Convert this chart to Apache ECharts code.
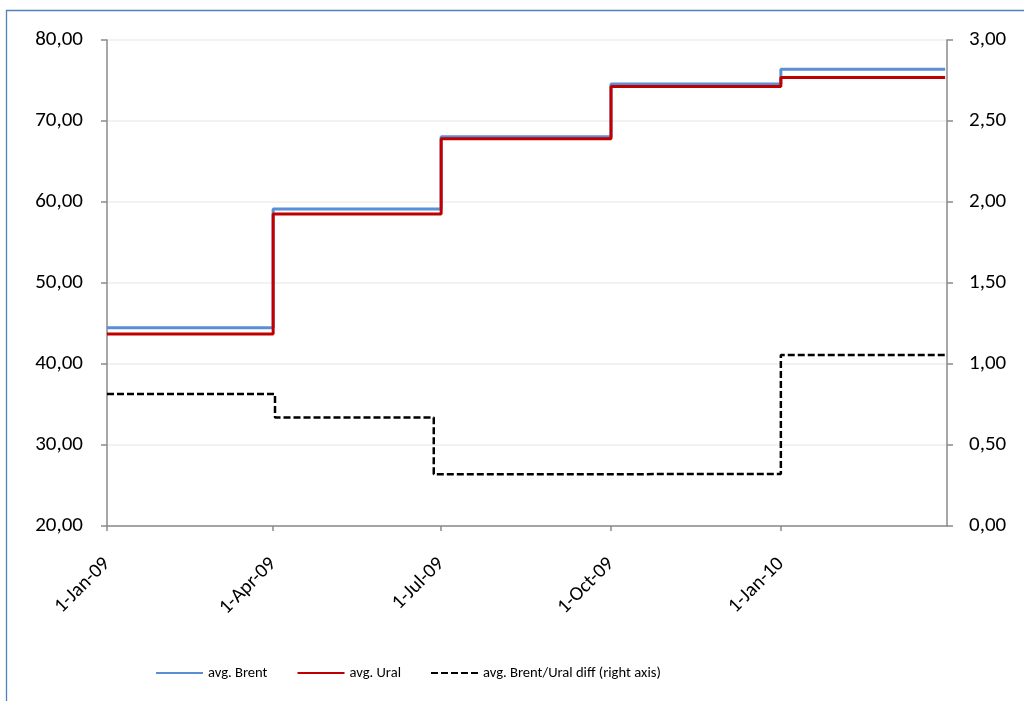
<!DOCTYPE html>
<html>
<head>
<meta charset="utf-8">
<title>Brent vs Ural</title>
<script src="https://cdn.jsdelivr.net/npm/echarts@6/dist/echarts.min.js"></script>
<style>
  html, body { margin: 0; padding: 0; background: #ffffff; }
  #chart { width: 1024px; height: 701px; }
</style>
</head>
<body>
<div id="chart"></div>
<script>
// Quarterly average prices (USD/bbl), held constant through each quarter
const priceDates = ['2009-01-01', '2009-04-01', '2009-07-01', '2009-10-01', '2010-01-01', '2010-03-31'];
const brentAvg = [44.48, 59.15, 68.07, 74.57, 76.40, 76.40];
const uralAvg = [43.70, 58.53, 67.80, 74.25, 75.37, 75.37];

// Brent/Ural spread, plotted on the right axis
const diffDates = ['2009-01-01', '2009-04-02', '2009-06-27', '2009-10-01', '2010-01-01', '2010-03-31'];
const brentUralDiff = [0.815, 0.670, 0.320, 0.321, 1.056, 1.056];

// Category ticks on the date axis
const tickDates = ['2009-01-01', '2009-04-01', '2009-07-01', '2009-10-01', '2010-01-01'];
const tickLabels = ['1-Jan-09', '1-Apr-09', '1-Jul-09', '1-Oct-09', '1-Jan-10'];

const axisStart = '2009-01-01';
const axisEnd = '2010-04-01';

// Dates become day numbers counted from the axis start
const DAY = 86400000;
const toUTC = s => {
  const [y, m, d] = s.split('-').map(Number);
  return Date.UTC(y, m - 1, d);
};
const toDay = s => Math.round((toUTC(s) - toUTC(axisStart)) / DAY);
const pairs = (dates, vals) => dates.map((d, i) => [toDay(d), vals[i]]);

const tickDays = tickDates.map(toDay);
const labelByDay = {};
tickDays.forEach((t, i) => { labelByDay[t] = tickLabels[i]; });

const FONT = 'Carlito, Lato, "Open Sans", sans-serif';
const AXIS_GRAY = '#8a8a8a';
const comma = v => v.toFixed(2).replace('.', ',');

const chart = echarts.init(document.getElementById('chart'), null, { renderer: 'canvas' });

chart.setOption({
  animation: false,
  backgroundColor: '#ffffff',
  textStyle: { fontFamily: FONT },
  graphic: [{
    type: 'rect',
    silent: true,
    shape: { x: 6.5, y: 10.5, width: 2000, height: 2000 },
    style: { fill: 'none', stroke: '#4f81bd', lineWidth: 1.3 }
  }],
  grid: { left: 107, right: 77, top: 40, bottom: 175, containLabel: false },
  legend: {
    left: 150,
    top: 660,
    itemWidth: 47,
    itemHeight: 20,
    itemGap: 29,
    itemStyle: { opacity: 0 },
    textStyle: { fontFamily: FONT, fontSize: 14.6, color: '#000000' },
    data: ['avg. Brent', 'avg. Ural', 'avg. Brent/Ural diff (right axis)']
  },
  xAxis: {
    type: 'value',
    min: toDay(axisStart),
    max: toDay(axisEnd),
    axisLine: { onZero: false, lineStyle: { color: AXIS_GRAY, width: 1.5 } },
    axisTick: { show: true, customValues: tickDays, length: 5, lineStyle: { color: AXIS_GRAY, width: 1.5 } },
    axisLabel: {
      customValues: tickDays,
      rotate: 45,
      margin: 35,
      fontFamily: FONT,
      fontSize: 20,
      color: '#000000',
      formatter: v => labelByDay[v] || ''
    },
    splitLine: { show: false }
  },
  yAxis: [{
    type: 'value',
    min: 20,
    max: 80,
    interval: 10,
    axisLine: { show: true, lineStyle: { color: AXIS_GRAY, width: 1.5 } },
    axisTick: { show: true, length: 6, lineStyle: { color: AXIS_GRAY, width: 1.5 } },
    axisLabel: { margin: 24, fontFamily: FONT, fontSize: 21, color: '#000000', formatter: comma },
    splitLine: { show: true, lineStyle: { color: '#eeeeee', width: 1.5 } }
  }, {
    type: 'value',
    min: 0,
    max: 3,
    interval: 0.5,
    position: 'right',
    axisLine: { show: true, lineStyle: { color: AXIS_GRAY, width: 1.5 } },
    axisTick: { show: true, length: 6, lineStyle: { color: AXIS_GRAY, width: 1.5 } },
    axisLabel: { margin: 22, fontFamily: FONT, fontSize: 21, color: '#000000', formatter: comma },
    splitLine: { show: false }
  }],
  series: [{
    name: 'avg. Brent',
    type: 'line',
    step: 'end',
    yAxisIndex: 0,
    symbol: 'none',
    data: pairs(priceDates, brentAvg),
    itemStyle: { color: '#5a8fd6' },
    lineStyle: { color: '#5a8fd6', width: 3 }
  }, {
    name: 'avg. Ural',
    type: 'line',
    step: 'end',
    yAxisIndex: 0,
    symbol: 'none',
    data: pairs(priceDates, uralAvg),
    itemStyle: { color: '#c00000' },
    lineStyle: { color: '#c00000', width: 3 }
  }, {
    name: 'avg. Brent/Ural diff (right axis)',
    type: 'line',
    step: 'end',
    yAxisIndex: 1,
    symbol: 'none',
    data: pairs(diffDates, brentUralDiff),
    itemStyle: { color: '#000000' },
    lineStyle: { color: '#000000', width: 2.5, type: [7, 3] }
  }]
});
</script>
</body>
</html>
